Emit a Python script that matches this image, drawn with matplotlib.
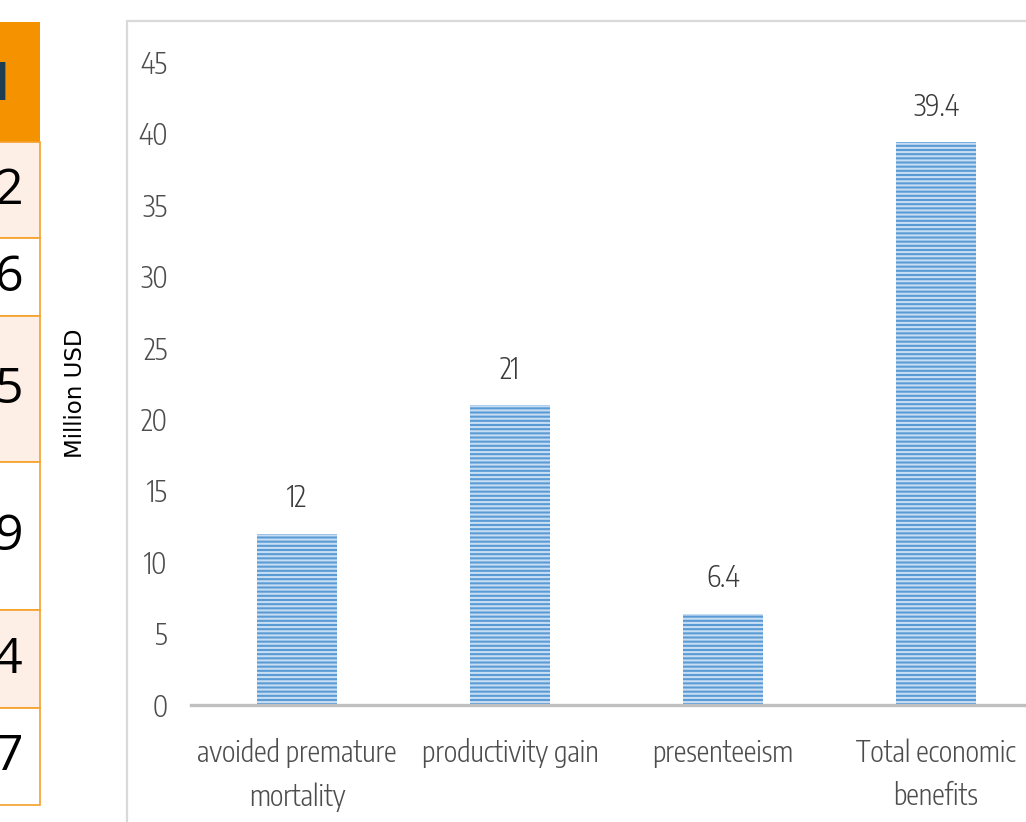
import numpy as np
import matplotlib
matplotlib.use("Agg")
import matplotlib.pyplot as plt
from matplotlib.patches import Rectangle
from matplotlib import font_manager
from matplotlib.font_manager import FontProperties

# chart data
categories = ["avoided premature\nmortality", "productivity gain", "presenteeism", "Total economic\nbenefits"]
values = [12, 21, 6.4, 39.4]
value_labels = ["12", "21", "6.4", "39.4"]
yticks = [0, 5, 10, 15, 20, 25, 30, 35, 40, 45]

# the clipped table on the left edge
table_values = ["2", "6", "5", "9", "4", "7"]
table_shaded = [True, False, True, False, True, False]

# look for a condensed sans face, the chart uses a narrow Calibri Light-like font
cands = []
for f in font_manager.fontManager.ttflist:
    nm = (f.name + " " + str(f.stretch)).lower()
    if ("condensed" in nm or "narrow" in nm) and f.style == "normal" \
            and f.weight in (300, 400, "normal", "light", "regular") and "mono" not in nm \
            and "serif" not in f.name.lower().replace("sans", ""):
        cands.append(f)
cands.sort(key=lambda f: (0 if "sans" in f.name.lower() else 1, 0 if f.weight in (300, "light") else 1))
if cands:
    narrow_fp = FontProperties(fname=cands[0].fname)
else:
    narrow_fp = FontProperties(family="Roboto")

W, H = 1026, 822
fig = plt.figure(figsize=(W / 100, H / 100), dpi=100)
renderer = fig.canvas.get_renderer()

# about 22 px tall digits like the reference, but keep the longest label under ~200 px
probe = fig.text(0, 0, "avoided premature", fontproperties=narrow_fp, fontsize=20)
pw = probe.get_window_extent(renderer).width
probe.remove()
lab_size = min(21.5, 20 * 200 / pw)

def nfp():
    fp = narrow_fp.copy()
    fp.set_size(lab_size)
    return fp

def fx(x):
    return x / W

def fy(y):
    return 1 - y / H

# outer chart frame (light gray), runs off right and bottom
fig.add_artist(Rectangle((fx(127), -0.1), 1, fy(21) + 0.1, transform=fig.transFigure,
                         fill=False, edgecolor="#d9d9d9", linewidth=1.6))

# main bar axes
x_left, x_right = 190.5, 190.5 + 852
ax = fig.add_axes([fx(x_left), fy(705), (x_right - x_left) / W, (705 - 62) / H])
ax.patch.set_alpha(0)

plt.rcParams["hatch.linewidth"] = 1.5
xpos = np.arange(len(values))
bars = ax.bar(xpos, values, width=0.376, color="#5b9bd5", edgecolor="#c6ddf3",
              linewidth=0, hatch="----", zorder=2)

for x, v, lab in zip(xpos, values, value_labels):
    ax.text(x, v + 2.45, lab, ha="center", va="center", fontproperties=nfp(), color="#3a3a3a")

ax.set_xlim(-0.5, 3.5)
ax.set_ylim(0, 45)
ax.set_yticks(yticks)
ax.set_yticklabels([str(t) for t in yticks], fontproperties=nfp(), color="#4d4d4d")
ax.tick_params(axis="y", length=0, pad=16.5)
ax.set_xticks(xpos)
ax.set_xticklabels(categories, fontproperties=nfp(), color="#4d4d4d", linespacing=1.6)
ax.tick_params(axis="x", length=0, pad=24)
for s in ["left", "top", "right"]:
    ax.spines[s].set_visible(False)
ax.spines["bottom"].set_color("#bfbfbf")
ax.spines["bottom"].set_linewidth(2.4)
ax.spines["bottom"].set_zorder(3)

fig.text(fx(75), fy(393), "Million USD", rotation=90, ha="center", va="center",
         fontsize=16.5, family=["DejaVu Sans"], color="#000000")

# table fragment, drawn in pixel coordinates on an overlay axes
tab = fig.add_axes([0, 0, 1, 1])
tab.set_xlim(0, W)
tab.set_ylim(H, 0)
tab.axis("off")
tab.patch.set_alpha(0)

tab.add_patch(Rectangle((-5, 22), 45, 120, facecolor="#f59200", edgecolor="none"))
tab.text(-7, 100, "l", ha="left", va="baseline", fontsize=36, fontweight="bold",
         family=["Open Sans", "DejaVu Sans"], color="#1f3d52")
row_edges = [142, 238, 316, 462, 610, 708, 805]
for i, (val, shaded) in enumerate(zip(table_values, table_shaded)):
    y0, y1 = row_edges[i], row_edges[i + 1]
    tab.add_patch(Rectangle((-5, y0), 45, y1 - y0,
                            facecolor="#fdeee6" if shaded else "white",
                            edgecolor="#f5a02a", linewidth=1.2))
    tab.text(23, (y0 + y1) / 2 + 1, val, ha="right", va="center", fontsize=36,
             family=["Open Sans", "DejaVu Sans"], color="#000000")

fig.savefig("out.png", dpi=100)
